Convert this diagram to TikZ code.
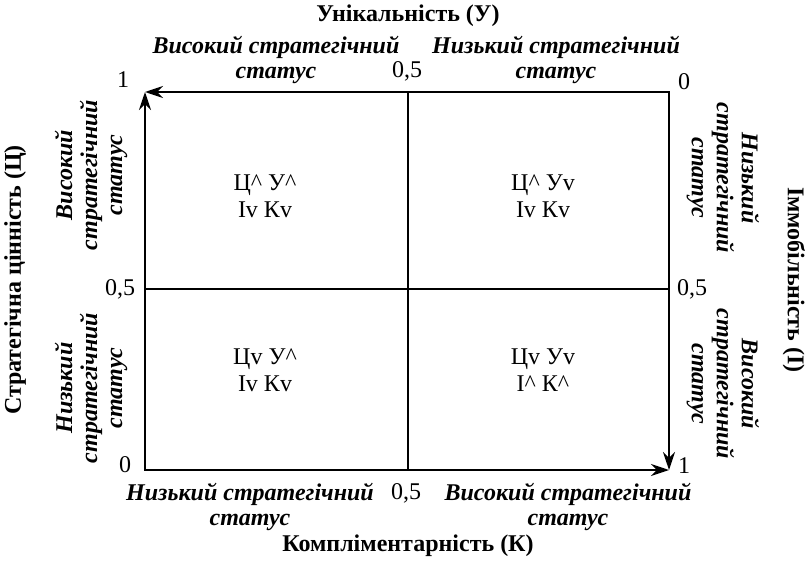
\documentclass[tikz,border=0pt]{standalone}
\usepackage{fontspec}
\setmainfont{Liberation Serif}
\usetikzlibrary{
arrows.meta,
positioning
}

\begin{document}
\begin{tikzpicture}[
x=1pt, y=-1pt,
font=\fontsize{24}{26}\selectfont,
title/.style={font=\fontsize{24}{26}\selectfont\bfseries},
status/.style={
align=center,
inner sep=0pt,
font=\fontsize{24}{25}\selectfont\bfseries\itshape
},
quad/.style={align=center, inner sep=0pt, font=\fontsize{24}{27}\selectfont},
tick/.style={inner sep=0pt},
axis/.style={{Stealth[length=18pt,width=12pt]}-{Stealth[length=18pt,width=12pt]}, line width=2pt},
grid/.style={line width=1.8pt}
]
\useasboundingbox (0,0) rectangle (806,567);

% corners of the square
\coordinate (tl) at (145,92);
\coordinate (tr) at (669,92);
\coordinate (bl) at (145,470);
\coordinate (br) at (669,470);
\coordinate (tm) at (408,92);
\coordinate (bm) at (408,470);
\coordinate (lm) at (145,289);
\coordinate (rm) at (669,289);

\draw[grid] (tm) -- (bm);
\draw[grid] (lm) -- (rm);
\draw[axis] (tl) -- (tr) -- (br);
\draw[axis] (tl) -- (bl) -- (br);

% axis titles
\node[title] (uniq) at (408,16) {Унікальність (У)};
\node[title] (compl) at (408,546) {Компліментарність (К)};
\node[title, rotate=90] (value) at (15,280) {Стратегічна цінність (Ц)};
\node[title, rotate=-90] (immob) at (794,280) {Іммобільність (І)};

% ticks
\node[tick] (t1) at (123,80) {1};
\node[tick] (t2) at (407,71) {0,5};
\node[tick] (t3) at (684,82) {0};
\node[tick] (t4) at (120,289) {0,5};
\node[tick] (t5) at (125,465) {0};
\node[tick] (t6) at (692,289) {0,5};
\node[tick] (t7) at (684,466) {1};
\node[tick] (t8) at (406,493) {0,5};

% status labels
\node[status] (topl) at (276,60) {Високий стратегічний\\статус};
\node[status] (topr) at (556,60) {Низький стратегічний\\статус};
\node[status] (botl) at (250,507) {Низький стратегічний\\статус};
\node[status] (botr) at (568,507) {Високий стратегічний\\статус};
\node[status, rotate=90] (lefu) at (91,175) {Високий\\стратегічний\\статус};
\node[status, rotate=90] (lefd) at (91,388) {Низький\\стратегічний\\статус};
\node[status, rotate=-90] (rigu) at (723,178) {Низький\\стратегічний\\статус};
\node[status, rotate=-90] (rigd) at (723,384) {Високий\\стратегічний\\статус};

% quadrants
\node[quad] (q1) at (265,196) {Ц\^{} У\^{}\\Іv Кv};
\node[quad] (q2) at (543,196) {Ц\^{} Уv\\Іv Кv};
\node[quad] (q3) at (265,370) {Цv У\^{}\\Іv Кv};
\node[quad] (q4) at (543,370) {Цv Уv\\І\^{} К\^{}};

\end{tikzpicture}
\end{document}
